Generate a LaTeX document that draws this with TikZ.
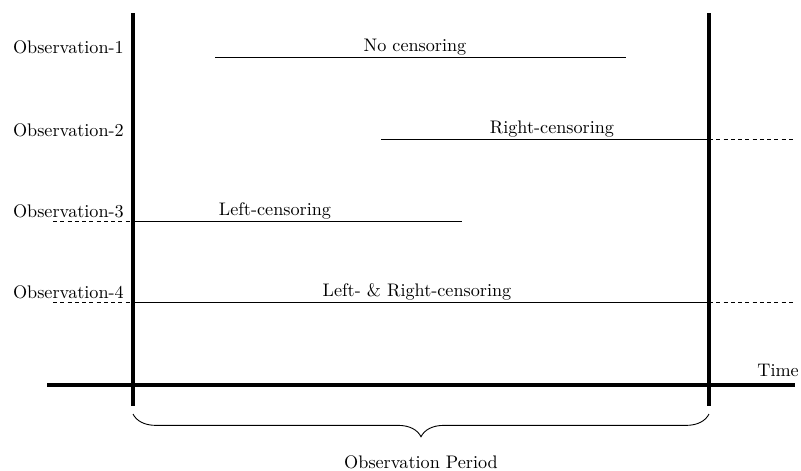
\documentclass[tikz,border=0pt]{standalone}
\usetikzlibrary{decorations.pathreplacing}
\begin{document}
\begin{tikzpicture}[x=0.55pt,y=-0.55pt,
		axis/.style={line width=1.8pt},
		obsline/.style={line width=0.5pt},
		censored/.style={line width=0.5pt,dash pattern=on 2.2pt off 1.8pt},
		lbl/.style={inner sep=1pt,font=\normalsize}]
	\useasboundingbox (0,0) rectangle (801,470);
	% observation period and time axis
	\coordinate (start top) at (133,13);
	\coordinate (start bot) at (133,406);
	\coordinate (end top) at (709,13);
	\coordinate (end bot) at (709,406);
	\coordinate (axis left) at (47,385);
	\coordinate (axis right) at (795,385);
	\draw[axis] (start top) -- (start bot);
	\draw[axis] (end top) -- (end bot);
	\draw[axis] (axis left) -- (axis right);
	\node[lbl,anchor=south east] (time) at (801,379) {Time};
	\draw[obsline,decorate,decoration={brace,mirror,amplitude=12.5pt,aspect=0.5}] (133,414) -- (709,414);
	\node[lbl] (period) at (421,462) {Observation Period};
	% observations
	\node[lbl,anchor=east] (obs1) at (126,47) {Observation-1};
	\node[lbl,anchor=east] (obs2) at (126,130) {Observation-2};
	\node[lbl,anchor=east] (obs3) at (126,211) {Observation-3};
	\node[lbl,anchor=east] (obs4) at (126,292) {Observation-4};
	% 1: no censoring
	\coordinate (a1) at (215,57);
	\coordinate (b1) at (626,57);
	\draw[obsline] (a1) -- (b1);
	\node[lbl] (none) at (415,47) {No censoring};
	% 2: right
	\coordinate (a2) at (381,139);
	\coordinate (b2) at (709,139);
	\coordinate (c2) at (795,139);
	\draw[obsline] (a2) -- (b2);
	\draw[censored] (b2) -- (c2);
	\node[lbl] (right) at (552,129) {Right-censoring};
	% 3: left
	\coordinate (z3) at (53,221);
	\coordinate (a3) at (133,221);
	\coordinate (b3) at (462,221);
	\draw[censored] (z3) -- (a3);
	\draw[obsline] (a3) -- (b3);
	\node[lbl] (left) at (275,211) {Left-censoring};
	% 4: left and right
	\coordinate (z4) at (53,302);
	\coordinate (a4) at (133,302);
	\coordinate (b4) at (709,302);
	\coordinate (c4) at (795,302);
	\draw[censored] (z4) -- (a4);
	\draw[obsline] (a4) -- (b4);
	\draw[censored] (b4) -- (c4);
	\node[lbl] (both) at (417,292) {Left- \& Right-censoring};
\end{tikzpicture}
\end{document}
